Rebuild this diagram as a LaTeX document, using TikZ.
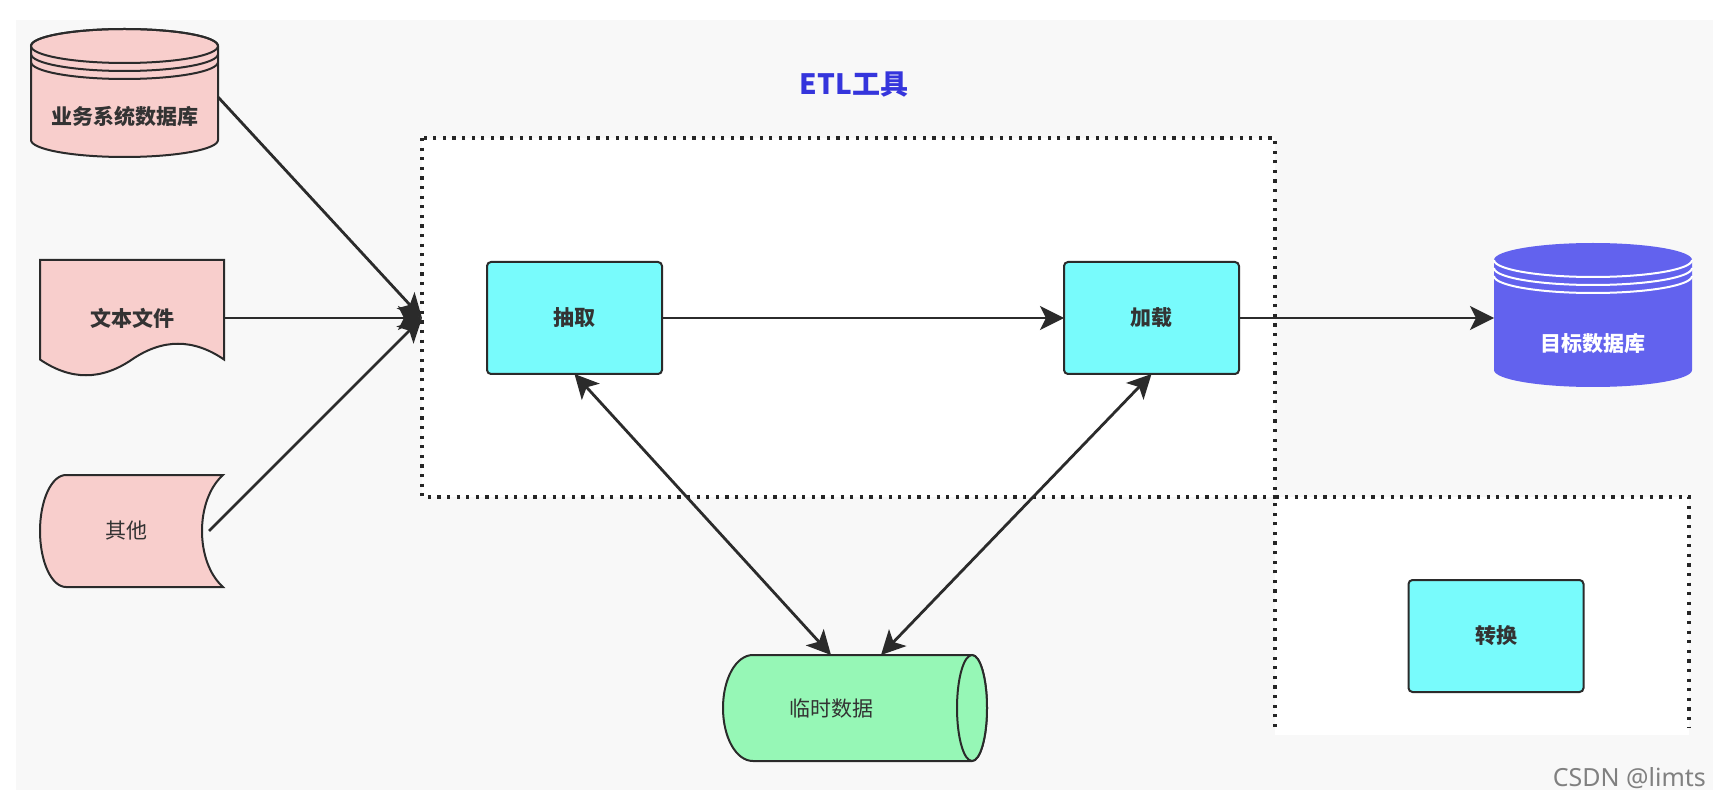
\documentclass[tikz,border=0pt]{standalone}
\usepackage{fontspec}
\setmainfont{Noto Sans CJK SC}
\newfontfamily\wmfont{Noto Sans}
\usetikzlibrary{arrows.meta}
\definecolor{bgray}{HTML}{F8F8F8}
\definecolor{pinkfill}{HTML}{F8CECC}
\definecolor{cyanfill}{HTML}{78FBFC}
\definecolor{greenfill}{HTML}{96F7B6}
\definecolor{dbblue}{HTML}{6262EE}
\definecolor{titleblue}{HTML}{3535DC}
\definecolor{edge}{HTML}{2B2B2B}
\definecolor{lbl}{HTML}{333333}

\begin{document}
\begin{tikzpicture}[x=0.5pt,y=-0.5pt,
  shapeline/.style={draw=edge,line width=1pt},
  lbltext/.style={inner sep=0pt,outer sep=0pt,text=lbl,font=\fontsize{10.5}{12}\selectfont\bfseries},
  plaintext/.style={lbltext,font=\fontsize{10.5}{12}\selectfont},
  stepbox/.style={lbltext,shapeline,fill=cyanfill,rounded corners=2pt,minimum width=87.5pt,minimum height=56pt},
  flow/.style={draw=edge,line width=1.4pt,-{Stealth[length=12pt,width=12pt,inset=3pt]}},
  twoway/.style={draw=edge,line width=1.4pt,{Stealth[length=12pt,width=12pt,inset=3pt]}-{Stealth[length=12pt,width=12pt,inset=3pt]}},
  dotbox/.style={draw=black!85,line width=1.6pt,dash pattern=on 1.6pt off 3.2pt}]
\useasboundingbox (0,0) rectangle (1728,796);
\fill[white] (0,0) rectangle (1728,796);
\fill[bgray] (16,20) rectangle (1713,790);
\fill[white] (422,138) rectangle (1275,497);
\fill[white] (1275,497) rectangle (1689,735);
\draw[dotbox] (422,138) rectangle (1275,497);
\draw[dotbox] (1275,727) -- (1275,497) -- (1689,497) -- (1689,727);
\node[text=titleblue,font=\fontsize{14}{16}\selectfont\bfseries] (etl) at (854,85) {ETL工具};

\draw[shapeline,fill=pinkfill] (31,46) -- (31,140) arc[start angle=180,end angle=0,x radius=93.5,y radius=17] -- (218,46) arc[start angle=0,end angle=-180,x radius=93.5,y radius=17] -- cycle;
\draw[shapeline] (124.5,46) ellipse[x radius=93.5,y radius=17];
\foreach \dy in {8,16}
{
	\draw[shapeline] (31,46+\dy) arc[start angle=180,end angle=0,x radius=93.5,y radius=17];
}
\node[lbltext,minimum width=93.5pt] (biz) at (124.5,117) {业务系统数据库};

\draw[shapeline,fill=pinkfill] (40,260) -- (224,260) -- (224,359.5) .. controls (193.3,338.5) and (162.7,338.5) .. (132,359.5) .. controls (101.3,380.5) and (70.7,380.5) .. (40,359.5) -- cycle;
\node[lbltext,minimum width=92pt] (txt) at (132,318) {文本文件};

\draw[shapeline,fill=pinkfill] (66,475) -- (223,475) .. controls (195,500) and (195,562) .. (223,587) -- (66,587) .. controls (51.6,587) and (40,561.9) .. (40,531) .. controls (40,500.1) and (51.6,475) .. (66,475) -- cycle;
\node[plaintext,minimum width=83pt] (oth) at (126,531) {其他};

\node[stepbox] (ext) at (574.5,318) {抽取};
\node[stepbox] (load) at (1151.5,318) {加载};
\node[stepbox] (trans) at (1496,636) {转换};

\fill[dbblue] (1494,260) -- (1494,370) arc[start angle=180,end angle=0,x radius=99,y radius=17] -- (1692,260) arc[start angle=0,end angle=-180,x radius=99,y radius=17] -- cycle;
\foreach \dy in {0,8,16}
{
	\draw[white,line width=1pt] (1494,260+\dy) arc[start angle=180,end angle=0,x radius=99,y radius=17];
}
\node[lbltext,text=white,minimum width=99pt] (tgt) at (1593,344) {目标数据库};

\draw[shapeline,fill=greenfill] (972,655) -- (753,655) .. controls (736,655) and (723,678.7) .. (723,708) .. controls (723,737.3) and (736,761) .. (753,761) -- (972,761) arc[start angle=90,end angle=-90,x radius=15,y radius=53] -- cycle;
\draw[shapeline,fill=greenfill] (972,708) ellipse[x radius=15,y radius=53];
\node[plaintext,minimum height=53pt] (tmp) at (831,708) {临时数据};

\coordinate (etlin) at (422,318);
\draw[flow] ([yshift=10pt]biz.east) -- (etlin);
\draw[flow] (txt.east) -- (etlin);
\draw[flow] (oth.east) -- (etlin);
\draw[flow] (ext) -- (load);
\draw[flow] (load.east) -- (load.east -| tgt.west);
\draw[twoway] (ext.south) -- (tmp.north);
\draw[twoway] (load.south) -- ([xshift=25pt]tmp.north);

\node[text=black!50,font=\wmfont\fontsize{12.5}{14}\selectfont,anchor=east] (wmark) at (1713,778) {CSDN @limts};
\end{tikzpicture}
\end{document}
